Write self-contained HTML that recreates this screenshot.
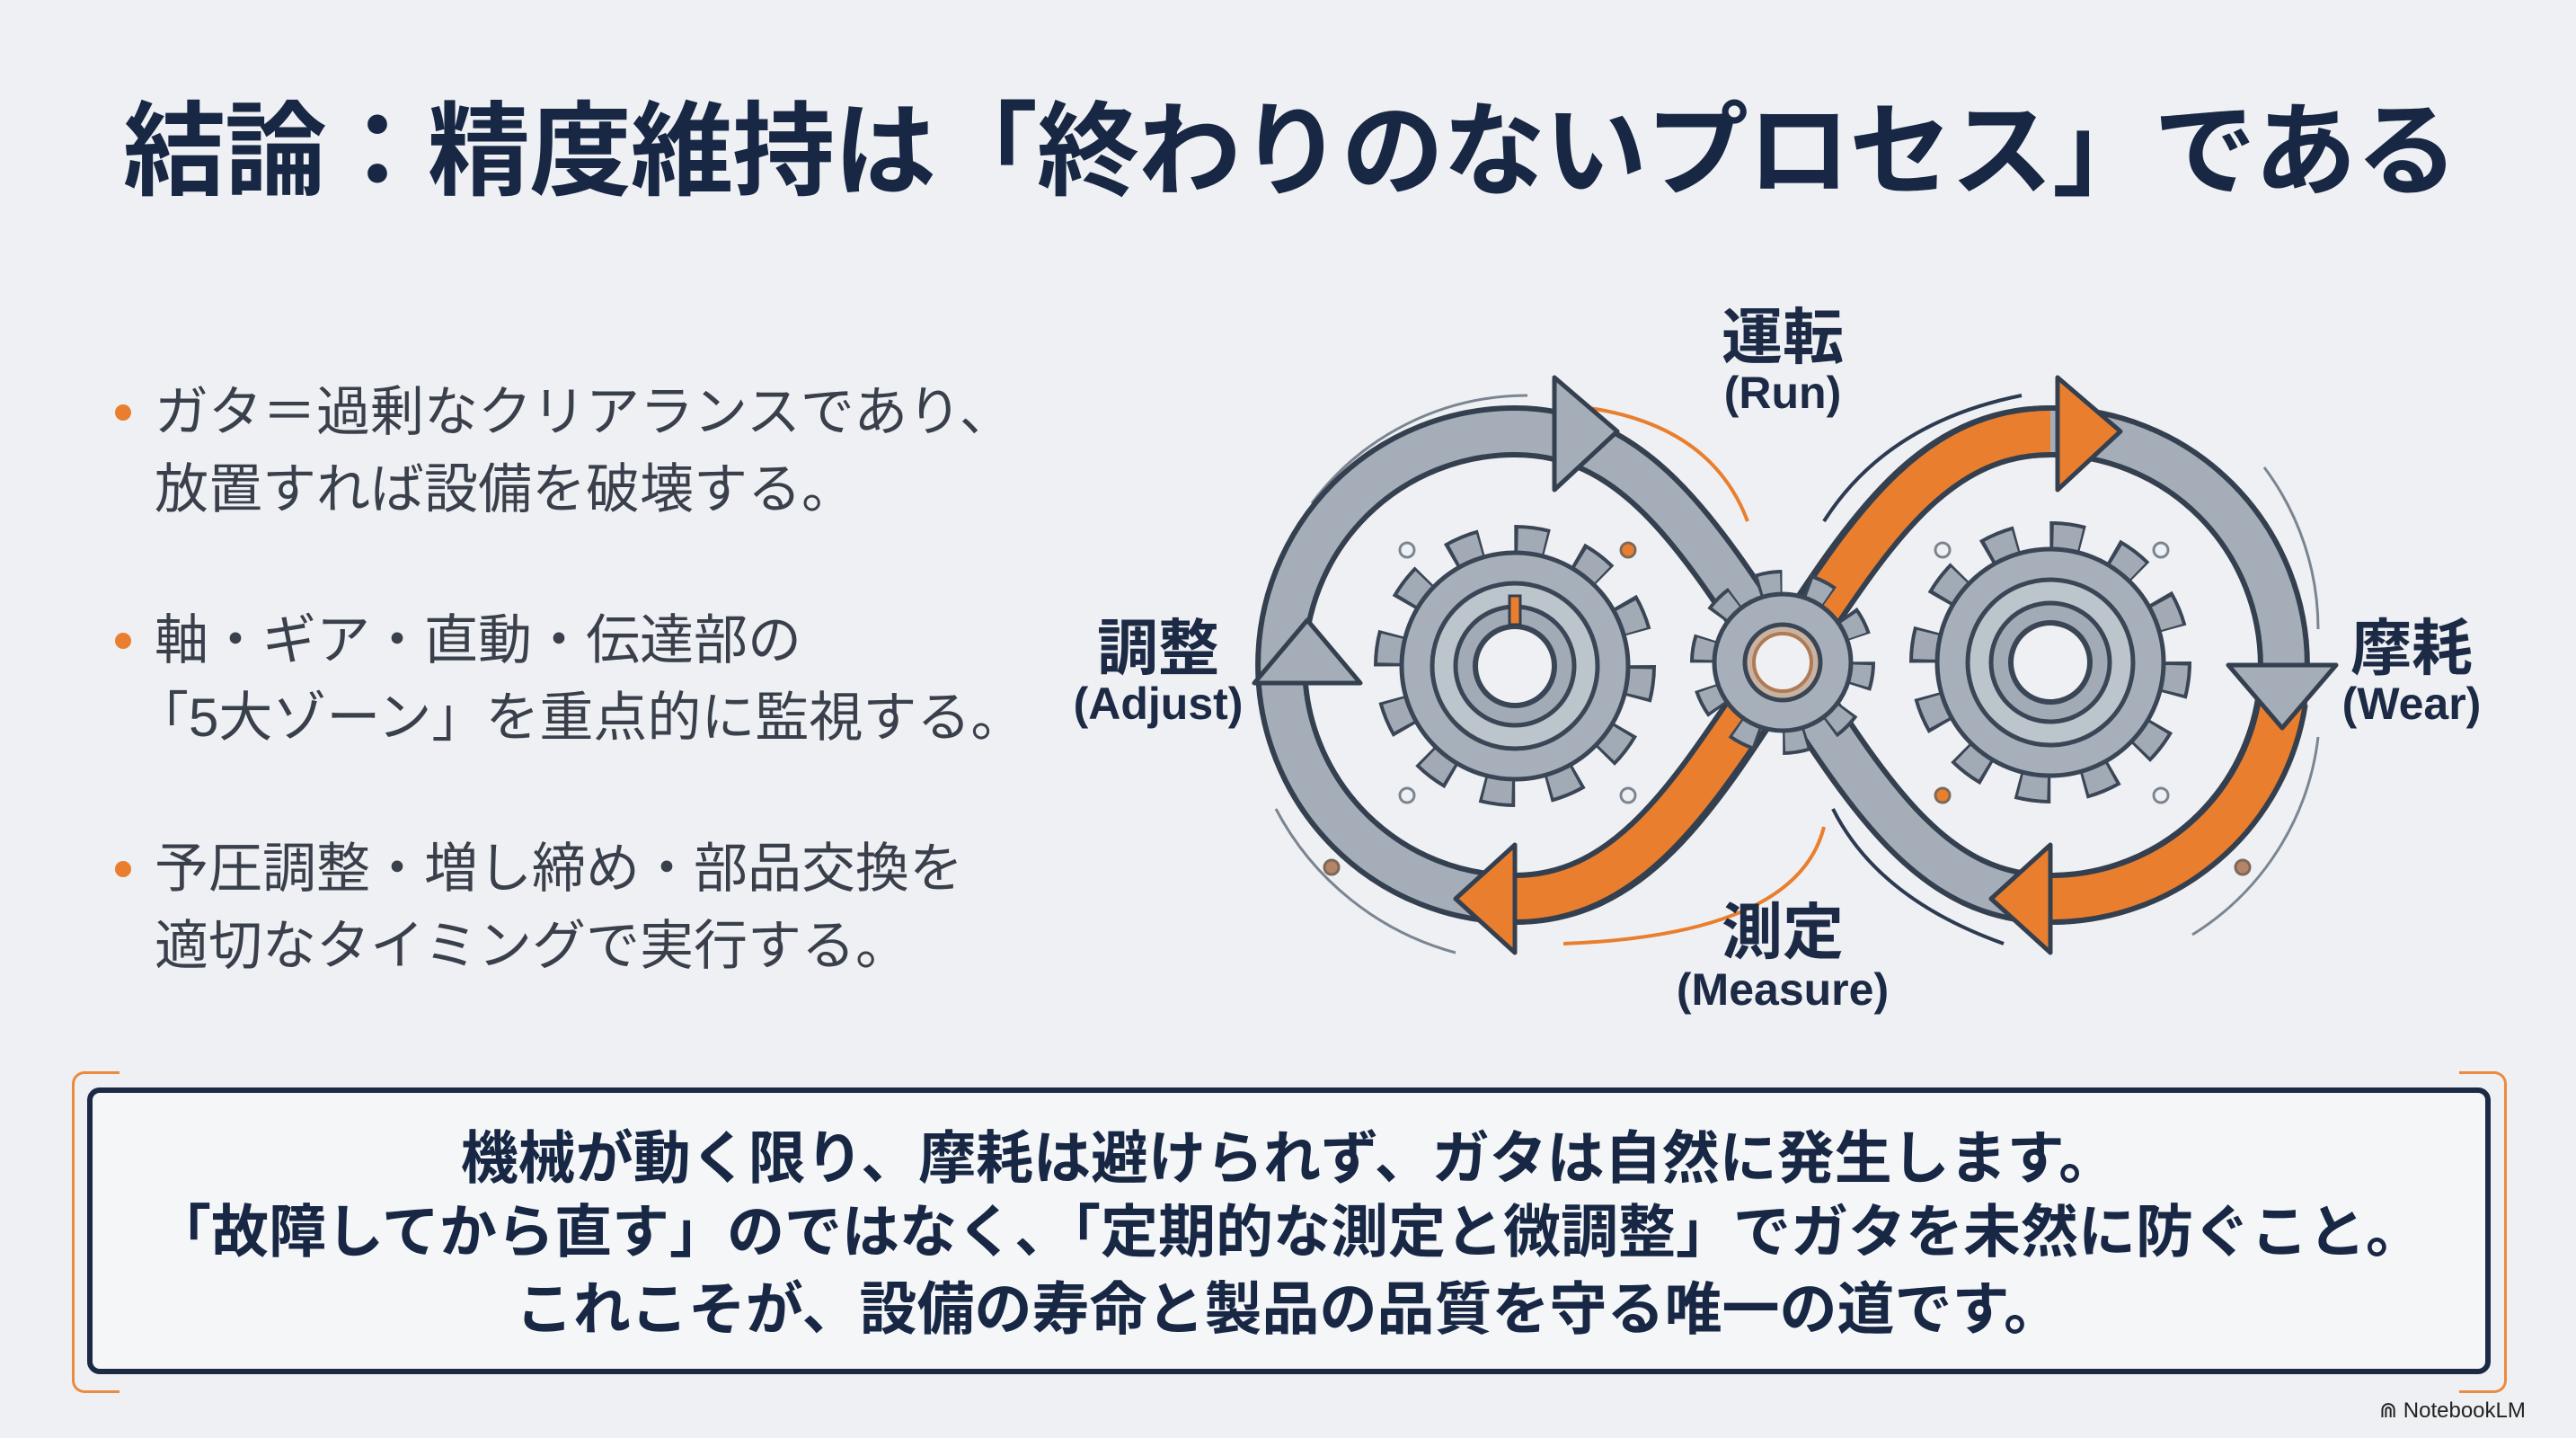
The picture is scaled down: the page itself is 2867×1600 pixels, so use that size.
<!DOCTYPE html>
<html><head><meta charset="utf-8">
<style>
html,body{margin:0;padding:0}
body{width:2867px;height:1600px;background:#eef0f3;position:relative;overflow:hidden;font-family:"Liberation Sans","Noto Sans CJK JP",sans-serif}
.t{position:absolute;white-space:nowrap}
#title{left:137px;top:100px;font-size:114px;font-weight:bold;color:#172744;line-height:140px;letter-spacing:-1px}
.b{font-size:60px;color:#3a404b;left:172px;line-height:86px}
.dot{position:absolute;width:18px;height:18px;border-radius:50%;background:#e97f2e;left:128px}
.lbl{font-weight:bold;color:#1c2a45;text-align:center;transform:translateX(-50%)}
.jp{font-size:68px}
.en{font-size:50px}
#box{position:absolute;left:97px;top:1210px;width:2663px;height:307px;border:6px solid #1c2a45;border-radius:14px;background:#f4f6f8}
.br{position:absolute;border:3px solid #ec8a3e;width:50px;top:1192px;height:352px;border-radius:14px}
.bt{font-size:64px;font-weight:bold;color:#172744;left:1434px;transform:translateX(-50%);line-height:80px}
</style></head><body>
<div class="t" id="title">結論：精度維持は「終わりのないプロセス」である</div>

<div class="dot" style="top:450px"></div>
<div class="t b" style="top:416px">ガタ＝過剰なクリアランスであり、</div>
<div class="t b" style="top:502px">放置すれば設備を破壊する。</div>
<div class="dot" style="top:704px"></div>
<div class="t b" style="top:670px">軸・ギア・直動・伝達部の</div>
<div class="t b" style="top:756px;left:150px">「5大ゾーン」を重点的に監視する。</div>
<div class="dot" style="top:958px"></div>
<div class="t b" style="top:924px">予圧調整・増し締め・部品交換を</div>
<div class="t b" style="top:1010px">適切なタイミングで実行する。</div>

<svg style="position:absolute;left:0;top:0" width="2867" height="1600">
<defs>
<g id="gearL">
<circle r="140" fill="none" stroke="#3a4556" stroke-width="34" stroke-dasharray="36.6 36.6"/>
<circle r="140" fill="none" stroke="#a2abb5" stroke-width="26" stroke-dasharray="30 43.3" stroke-dashoffset="-3.3"/>
<circle r="126" fill="#a7b0ba" stroke="#3a4556" stroke-width="5"/>
<circle r="92" fill="#bcc4cc" stroke="#3a4556" stroke-width="5"/>
<circle r="66" fill="#a2abb5" stroke="#3a4556" stroke-width="5"/>
<circle r="44" fill="#eef0f3" stroke="#3a4556" stroke-width="6"/>
</g>
</defs>
<g fill="none" stroke="#7b8591" stroke-width="3">
<path d="M1460 560 A300 300 0 0 1 1700 440"/>
<path d="M1420 900 A320 320 0 0 0 1620 1060"/>
<path d="M2520 520 A300 300 0 0 1 2580 700"/>
<path d="M2580 820 A300 300 0 0 1 2440 1040"/>
</g>
<path d="M1730 450 Q1900 460 1945 580" fill="none" stroke="#e97f2e" stroke-width="4"/>
<path d="M2030 920 Q2000 1040 1740 1050" fill="none" stroke="#e97f2e" stroke-width="4"/>
<path d="M2030 580 Q2100 470 2250 440" fill="none" stroke="#2c3a52" stroke-width="4"/>
<path d="M2040 900 Q2090 1000 2230 1050" fill="none" stroke="#2c3a52" stroke-width="4"/>
<path d="M1984 737 C2080 590,2150 480,2282 480 A260 260 0 0 1 2282 1000 C2150 1000,2080 885,1984 737 C1888 590,1818 480,1686 480 A260 260 0 0 0 1686 1000 C1818 1000,1888 885,1984 737" fill="none" stroke="#34404f" stroke-width="58"/>
<path d="M1984 737 C2080 590,2150 480,2282 480 A260 260 0 0 1 2282 1000 C2150 1000,2080 885,1984 737 C1888 590,1818 480,1686 480 A260 260 0 0 0 1686 1000 C1818 1000,1888 885,1984 737" fill="none" stroke="#a5aeb8" stroke-width="46"/>
<g fill="none" stroke-width="58">
<path d="M2010 700 C2090 580,2160 480,2282 480" stroke="#34404f"/>
<path d="M2010 700 C2090 580,2160 480,2282 480" stroke="#e97f2e" stroke-width="46"/>
<path d="M1958 775 C1880 890,1810 1000,1686 1000" stroke="#34404f"/>
<path d="M1958 775 C1880 890,1810 1000,1686 1000" stroke="#e97f2e" stroke-width="46"/>
<path d="M2540 780 A260 260 0 0 1 2282 1000" stroke="#34404f"/>
<path d="M2540 780 A260 260 0 0 1 2282 1000" stroke="#e97f2e" stroke-width="46"/>
</g>
<g stroke="#34404f" stroke-width="5" stroke-linejoin="round">
<polygon points="1730,420 1730,545 1800,480" fill="#a5aeb8"/>
<polygon points="2290,420 2290,545 2360,480" fill="#e97f2e"/>
<polygon points="1686,940 1686,1060 1620,1000" fill="#e97f2e"/>
<polygon points="2282,940 2282,1060 2216,1000" fill="#e97f2e"/>
<polygon points="1396,760 1514,760 1455,690" fill="#a5aeb8"/>
<polygon points="2480,740 2600,740 2540,810" fill="#a5aeb8"/>
</g>
<use href="#gearL" x="1686" y="741"/>
<use href="#gearL" x="2282" y="737"/>
<rect x="1680" y="663" width="12" height="32" fill="#e97f2e" stroke="#34404f" stroke-width="3"/>
<g transform="translate(1984,737)">
<circle r="88" fill="none" stroke="#3a4556" stroke-width="30" stroke-dasharray="27.6 27.6"/>
<circle r="88" fill="none" stroke="#a2abb5" stroke-width="22" stroke-dasharray="22 33.3" stroke-dashoffset="-2.8"/>
<circle r="76" fill="#a7b0ba" stroke="#3a4556" stroke-width="5"/>
<circle r="42" fill="#c8b3a3" stroke="#3a4556" stroke-width="5"/>
<circle r="32" fill="#eef0f3" stroke="#b07a55" stroke-width="4"/>
</g>
<g fill="#eef0f3" stroke="#7b8591" stroke-width="3">
<circle cx="1566" cy="612" r="8"/><circle cx="1566" cy="885" r="8"/><circle cx="1812" cy="885" r="8"/>
<circle cx="2405" cy="612" r="8"/><circle cx="2405" cy="885" r="8"/><circle cx="2162" cy="612" r="8"/>
</g>
<g fill="#e97f2e" stroke="#7b6a5a" stroke-width="3">
<circle cx="1812" cy="612" r="8"/><circle cx="2162" cy="885" r="8"/>
<circle cx="1482" cy="965" r="8" fill="#b58368"/><circle cx="2496" cy="965" r="8" fill="#b58368"/>
</g>
</svg>

<div class="t lbl jp" style="left:1984px;top:320px">運転</div>
<div class="t lbl en" style="left:1984px;top:408px">(Run)</div>
<div class="t lbl jp" style="left:1289px;top:666px">調整</div>
<div class="t lbl en" style="left:1289px;top:754px">(Adjust)</div>
<div class="t lbl jp" style="left:2684px;top:666px">摩耗</div>
<div class="t lbl en" style="left:2684px;top:754px">(Wear)</div>
<div class="t lbl jp" style="left:1984px;top:982px">測定</div>
<div class="t lbl en" style="left:1984px;top:1072px">(Measure)</div>

<div class="br" style="left:80px;border-right:none;border-top-right-radius:0;border-bottom-right-radius:0"></div>
<div class="br" style="left:2737px;border-left:none;border-top-left-radius:0;border-bottom-left-radius:0"></div>
<div id="box"></div>
<div class="t bt" style="top:1249px">機械が動く限り、摩耗は避けられず、ガタは自然に発生します。</div>
<div class="t bt" style="top:1331px">「故障してから直す」のではなく、「定期的な測定と微調整」でガタを未然に防ぐこと。</div>
<div class="t bt" style="top:1417px">これこそが、設備の寿命と製品の品質を守る唯一の道です。</div>

<div class="t" style="left:2648px;top:1555px;font-size:24px;color:#222">⋒ NotebookLM</div>
</body></html>
